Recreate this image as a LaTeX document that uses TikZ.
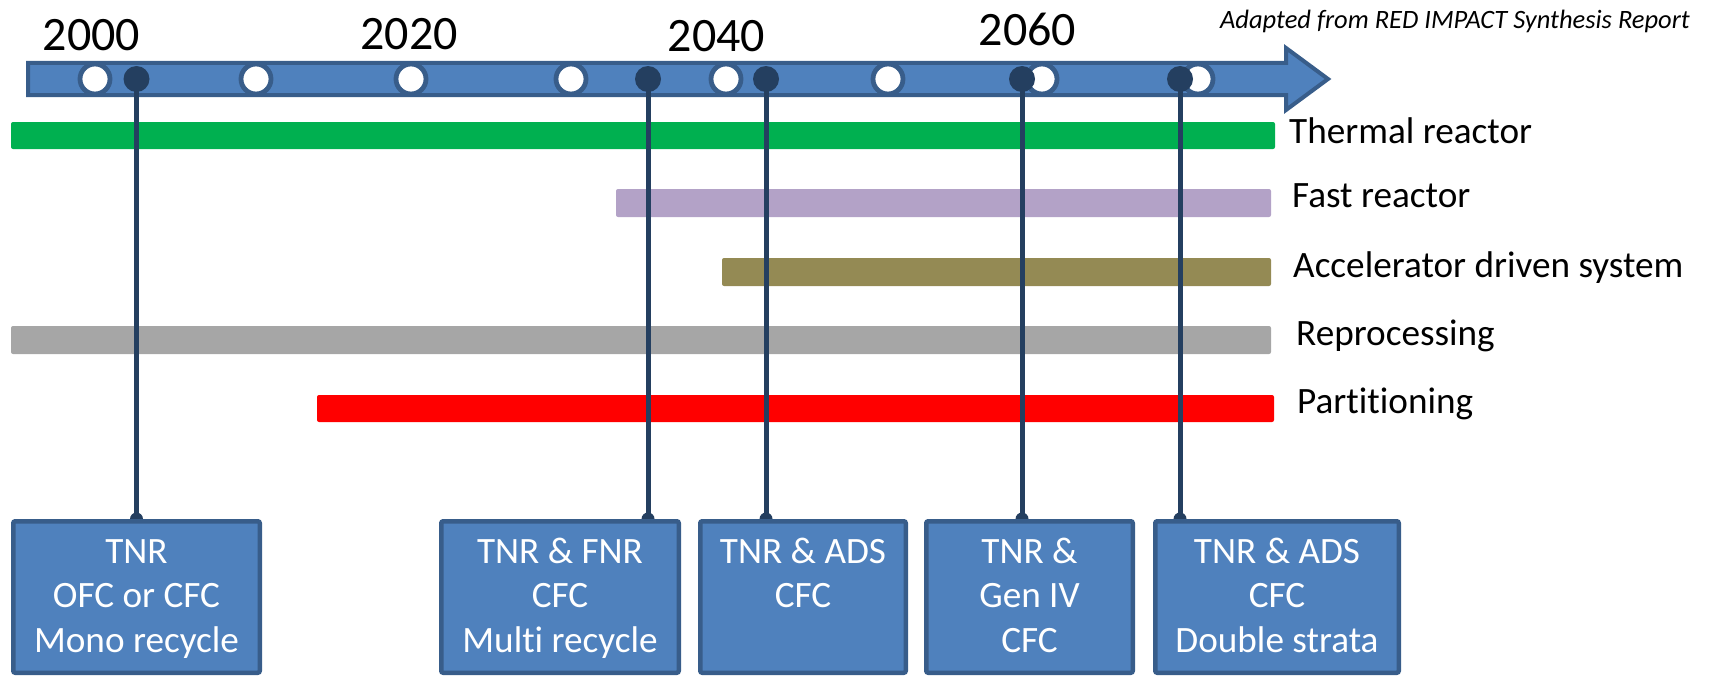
\documentclass[tikz,border=0pt]{standalone}
\usepackage{fontspec}
\setmainfont{Carlito}[Ligatures={NoCommon}]
\usetikzlibrary{calc}

\definecolor{axisfill}{HTML}{4F81BD}
\definecolor{axisline}{HTML}{385D8A}
\definecolor{navy}{HTML}{243F60}
\definecolor{thermal}{HTML}{00B050}
\definecolor{fast}{HTML}{B3A2C7}
\definecolor{ads}{HTML}{948A54}
\definecolor{repro}{HTML}{A6A6A6}
\definecolor{parti}{HTML}{FF0000}

\pgfdeclarelayer{back}
\pgfdeclarelayer{links}
\pgfsetlayers{back,links,main}

\begin{document}
\begin{tikzpicture}[x=1pt,y=-1pt,
  yearlbl/.style={anchor=base, inner sep=0, font=\fontsize{48}{52}\selectfont},
  lanelbl/.style={anchor=base west, inner sep=0, font=\fontsize{37.2}{44}\selectfont},
  tick/.style={circle, fill=white, draw=axisline, line width=4.8pt, minimum size=30pt, inner sep=0},
  event/.style={circle, fill=navy, minimum size=26pt, inner sep=0},
  phase/.style={rectangle, fill=axisfill, draw=axisline, line width=4.5pt, rounded corners=2pt, inner sep=0, minimum height=151.5pt},
  boxtxt/.style={anchor=base, inner sep=0, text=white, font=\fontsize{37.2}{44}\selectfont},
  link/.style={draw=navy, line width=5pt},
  lane/.style={rounded corners=2pt}
]
\useasboundingbox (0,0) rectangle (1710,677);

% timeline axis, year ticks and technology lanes
\begin{pgfonlayer}{back}
  \draw[fill=axisfill, draw=axisline, line width=4pt, line join=miter]
    (28,63) -- (1286,63) -- (1286,48) -- (1328,79) -- (1286,110) -- (1286,95) -- (28,95) -- cycle;
  \foreach \x [count=\i] in {95,256,411,571,726,888,1042,1198}
    \node[tick] (t\i) at (\x,79) {};
  \fill[lane, thermal] (11,122) rectangle (1275,149);
  \fill[lane, fast]    (616,189) rectangle (1271,217);
  \fill[lane, ads]     (722,258) rectangle (1271,286);
  \fill[lane, repro]   (11,326) rectangle (1271,354);
  \fill[lane, parti]   (317,395) rectangle (1274,422);
\end{pgfonlayer}

% years
\node[yearlbl] (y2000) at (91.5,51) {2000};
\node[yearlbl] (y2020) at (409,49) {2020};
\node[yearlbl] (y2040) at (716.5,52) {2040};
\node[yearlbl] (y2060) at (1027.5,46) {2060};

\node[anchor=base east, inner sep=0, font=\fontsize{26.5}{30}\selectfont\itshape]
  (source) at (1690,29) {Adapted from RED IMPACT Synthesis Report};

% lane labels
\node[lanelbl] (lthermal) at (1289,143) {Thermal reactor};
\node[lanelbl] (lfast)    at (1292,207) {Fast reactor};
\node[lanelbl] (lads)     at (1293,277) {Accelerator driven system};
\node[lanelbl] (lrepro)   at (1296,345) {Reprocessing};
\node[lanelbl] (lparti)   at (1297,413) {Partitioning};

% event markers on the axis
\node[event] (d1) at (136.5,79) {};
\node[event] (d2) at (648,79) {};
\node[event] (d3) at (766,79) {};
\node[event] (d4) at (1022,79) {};
\node[event] (d5) at (1180,79) {};

% scenario boxes
\node[phase, minimum width=246.5pt] (b1) at (136.5,597) {};
\node[phase, minimum width=237.5pt] (b2) at (560,597) {};
\node[phase, minimum width=205.5pt] (b3) at (803,597) {};
\node[phase, minimum width=206.5pt] (b4) at (1029.5,597) {};
\node[phase, minimum width=243.5pt] (b5) at (1277,597) {};

\foreach \t/\o [count=\i] in {TNR/44, OFC or CFC/88.5, Mono recycle/133.5}
  \node[boxtxt] (b1l\i) at ($(b1.north)+(0,\o)$) {\t};
\foreach \t/\o [count=\i] in {TNR \& FNR/44, CFC/88.5, Multi recycle/133.5}
  \node[boxtxt] (b2l\i) at ($(b2.north)+(0,\o)$) {\t};
\foreach \t/\o [count=\i] in {TNR \& ADS/44, CFC/88.5}
  \node[boxtxt] (b3l\i) at ($(b3.north)+(0,\o)$) {\t};
\foreach \t/\o [count=\i] in {TNR \&/44, Gen IV/88.5, CFC/133.5}
  \node[boxtxt] (b4l\i) at ($(b4.north)+(0,\o)$) {\t};
\foreach \t/\o [count=\i] in {TNR \& ADS/44, CFC/88.5, Double strata/133.5}
  \node[boxtxt] (b5l\i) at ($(b5.north)+(0,\o)$) {\t};

% vertical connectors from events down to the top of their scenario boxes
\begin{pgfonlayer}{links}
  \foreach \i in {1,...,5} {
    \draw[link] (d\i.center) -- (d\i.center |- b\i.north);
    \fill[navy] (d\i.center |- b\i.north) circle (6.5pt);
  }
\end{pgfonlayer}
\end{tikzpicture}
\end{document}
